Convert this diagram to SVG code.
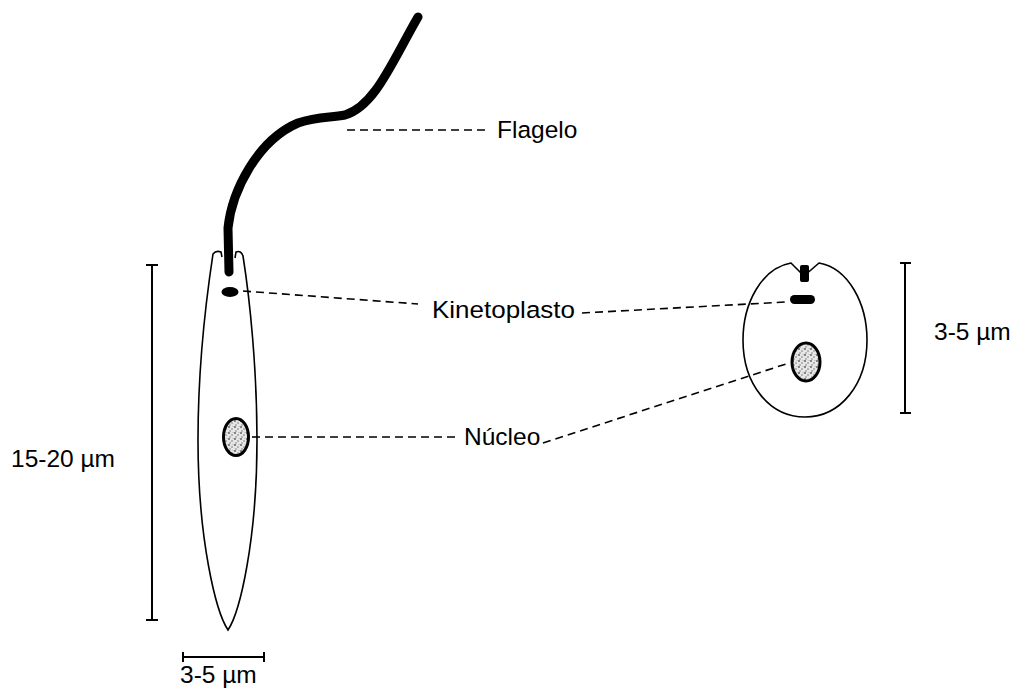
<svg xmlns="http://www.w3.org/2000/svg" width="1022" height="695" viewBox="0 0 1022 695">
  <defs>
    <!-- stippled chromatin texture for the nuclei -->
    <pattern id="stipple" width="6" height="6" patternUnits="userSpaceOnUse">
      <rect width="6" height="6" fill="#e6e6e6"/>
      <circle cx="1" cy="1" r="0.9" fill="#555"/>
      <circle cx="4" cy="3" r="0.8" fill="#777"/>
      <circle cx="2" cy="5" r="0.7" fill="#666"/>
      <circle cx="5" cy="0.5" r="0.5" fill="#999"/>
    </pattern>
  </defs>
  <style>
    .cell { fill: #fff; stroke: #000; stroke-width: 1.6; }
    .organelle { fill: #000; }
    .nucleus { fill: url(#stipple); stroke: #000; stroke-width: 3; }
    .lead { stroke: #000; stroke-width: 1.6; stroke-dasharray: 8 5; fill: none; }
    .bar { stroke: #000; stroke-width: 2; fill: none; }
    .label { font-family: "Liberation Sans", Arial, sans-serif; font-size: 24.5px; fill: #000; }
  </style>
  <rect width="1022" height="695" fill="#fff"/>

  <!-- promastigote form -->
  <g id="promastigote">
    <path class="cell" d="M222,257 L221,252 Q216,250 213,254 C 206,300 198,370 198,440 C 198,540 216,612 228,630 C 240,612 257,540 257,440 C 257,370 250,300 243,256 Q 241,250 236,252 L 235,258"/>
    <path d="M229,272 L228,228 C 232,190 258,140 298,123 C 318,116 330,118 345,115 C 375,106 392,62 418,17" fill="none" stroke="#000" stroke-width="9" stroke-linecap="round" stroke-linejoin="round"/>
    <ellipse class="organelle" cx="230" cy="292" rx="8.5" ry="5"/>
    <ellipse class="nucleus" cx="236" cy="437" rx="12.5" ry="18.5"/>
  </g>

  <!-- amastigote form -->
  <g id="amastigote">
    <path class="cell" d="M804,276 L791,263 C 762,268 743,303 743,340 C 743,385 770,417 805,417 C 840,417 867,385 867,340 C 867,303 848,268 819,263 Z"/>
    <rect class="organelle" x="800" y="265" width="9" height="17" rx="2"/>
    <rect class="organelle" x="790" y="295" width="25" height="9" rx="4.5"/>
    <ellipse class="nucleus" cx="806" cy="362" rx="14" ry="19"/>
  </g>

  <!-- labels -->
  <g id="label-flagelo"><text class="label" x="497" y="138">Flagelo</text></g>
  <g id="label-kinetoplasto"><text class="label" x="432" y="318" textLength="143" lengthAdjust="spacingAndGlyphs">Kinetoplasto</text></g>
  <g id="label-nucleo"><text class="label" x="464" y="445">Núcleo</text></g>

  <!-- scale bars -->
  <g id="scale-length">
    <path class="bar" d="M152,265 V620 M146,265 H158 M146,620 H158"/>
    <text class="label" x="11" y="467">15-20 µm</text>
  </g>
  <g id="scale-width">
    <path class="bar" d="M183,657 H264 M183,652 V662 M264,652 V662"/>
    <text class="label" x="180" y="683">3-5 µm</text>
  </g>
  <g id="scale-amastigote">
    <path class="bar" d="M905,263 V413 M900,263 H911 M900,413 H911"/>
    <text class="label" x="934" y="340">3-5 µm</text>
  </g>

  <!-- leader lines -->
  <g id="connectors">
    <path class="lead" d="M347,130 H486"/>
    <path class="lead" d="M243,291 L418,304"/>
    <path class="lead" d="M582,313 L786,302"/>
    <path class="lead" d="M252,437 H459"/>
    <path class="lead" d="M543,443 L789,363"/>
  </g>
</svg>
